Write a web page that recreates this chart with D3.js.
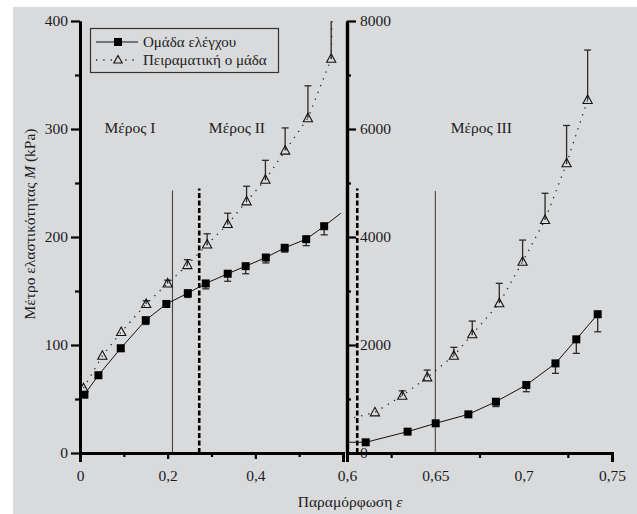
<!DOCTYPE html>
<html>
<head>
<meta charset="utf-8">
<script src="https://cdn.jsdelivr.net/npm/d3@7"></script>
<style>
    html, body { margin: 0; padding: 0; background: #fff; }
    #chart { width: 637px; height: 514px; }
    text { font-family: "Liberation Serif", "DejaVu Serif", serif; fill: #1c1c1c; }
</style>
</head>
<body>
<div id="chart"></div>
<script>
// left panel (parts I and II): strain 0 - 0.6, modulus in kPa
const leftControlEps = [0.01, 0.042, 0.093, 0.15, 0.197, 0.246, 0.287, 0.337, 0.378, 0.424, 0.467, 0.516, 0.557];
const leftControlM = [54, 72, 97, 123, 138, 148, 157, 166, 173, 181, 190, 198, 210];
const leftControlErr = [2, 2, 3, 4, 3, 4, 5, 7, 7, 5, 4, 6, 8];
const leftControlTail = [0.595, 222];

const leftExpEps = [0.008, 0.051, 0.094, 0.151, 0.2, 0.245, 0.29, 0.337, 0.38, 0.423, 0.468, 0.52, 0.573];
const leftExpM = [60, 90, 112, 138, 157, 174, 193, 212, 233, 253, 280, 310, 365];
const leftExpErr = [0, 0, 0, 3, 3, 5, 10, 10, 14, 18, 21, 30, 60];
const leftExpTail = [0.575, 400];

// right panel (part III): strain 0.6 - 0.75, modulus in kPa
const rightControlEps = [0.6106, 0.6343, 0.6502, 0.6687, 0.6843, 0.7015, 0.718, 0.7298, 0.7419];
const rightControlM = [198, 395, 550, 716, 950, 1260, 1660, 2105, 2570];
const rightControlErr = [0, 0, 0, 0, 90, 125, 185, 260, 325];
const rightControlHead = [0.6, 200];

const rightExpEps = [0.6158, 0.6313, 0.6454, 0.6605, 0.6709, 0.6862, 0.6994, 0.7121, 0.7243, 0.7362];
const rightExpM = [753, 1061, 1401, 1802, 2198, 2772, 3543, 4315, 5365, 6537];
const rightExpErr = [0, 90, 135, 155, 245, 370, 400, 495, 700, 925];
const rightExpHead = [0.6, 620];

// region boundaries [strain, top of line]
const leftSolidMark = [0.211, 243];
const leftDashMark = [0.272, 245];
const rightDashMark = [0.6058, 4900];
const rightSolidMark = [0.65, 4850];

const leftYTicks = [0, 100, 200, 300, 400];
const leftYMinor = [50, 150, 250, 350];
const rightYTicks = [0, 2000, 4000, 6000, 8000];
const rightYMinor = [1000, 3000, 5000, 7000];
const leftXTicks = [0, 0.2, 0.4];
const leftXMinor = [0.1, 0.3, 0.5];
const rightXTicks = [0.6, 0.65, 0.7, 0.75];
const rightXMinor = [0.625, 0.675, 0.725];

const partLabels = ["Μέρος I", "Μέρος II", "Μέρος III"];
const legendLabels = ["Ομάδα ελέγχου", "Πειραματική ο μάδα"];

class BrokenAxisChart {
    constructor(domName) {
        this.domName = domName;
        this.dom = document.querySelector(domName);
    }

    drawSeries(g, x, y, eps, vals, errs, extra, kind) {
        let pts = d3.zip(eps, vals, errs);
        let linePts = pts.map(d => [d[0], d[1]]);
        if (kind.head) linePts.unshift(extra);
        else linePts.push(extra);

        let line = d3.line()
            .x(d => x(d[0]))
            .y(d => y(d[1]));

        g.append("path")
            .attr("d", line(linePts))
            .attr("fill", "none")
            .attr("stroke", kind.control ? "#111" : "#222")
            .attr("stroke-width", kind.control ? 1 : 1.3)
            .attr("stroke-dasharray", kind.control ? null : "1.3,6");

        // error bars: control goes down, experimental goes up
        let bars = g.selectAll(null)
            .data(pts.filter(d => d[2] > 0))
            .enter()
            .append("g")
            .attr("stroke", "#2a2a2a")
            .attr("stroke-width", 1.3);
        bars.append("line")
            .attr("x1", d => x(d[0]))
            .attr("x2", d => x(d[0]))
            .attr("y1", d => y(d[1]))
            .attr("y2", d => y(kind.control ? d[1] - d[2] : d[1] + d[2]));
        bars.append("line")
            .attr("x1", d => x(d[0]) - 3.5)
            .attr("x2", d => x(d[0]) + 3.5)
            .attr("y1", d => y(kind.control ? d[1] - d[2] : d[1] + d[2]))
            .attr("y2", d => y(kind.control ? d[1] - d[2] : d[1] + d[2]));

        if (kind.control) {
            g.selectAll(null)
                .data(pts)
                .enter()
                .append("rect")
                .attr("x", d => x(d[0]) - 4)
                .attr("y", d => y(d[1]) - 4)
                .attr("width", 8)
                .attr("height", 8)
                .attr("fill", "#000");
        } else {
            g.selectAll(null)
                .data(pts)
                .enter()
                .append("path")
                .attr("d", "M0,-5L4.6,3.5L-4.6,3.5Z")
                .attr("transform", d => "translate(" + x(d[0]) + "," + y(d[1]) + ")")
                .attr("fill", "none")
                .attr("stroke", "#111")
                .attr("stroke-width", 1.1);
        }
    }

    drawMark(g, x, y, mark, dashed) {
        g.append("line")
            .attr("x1", x(mark[0]))
            .attr("x2", x(mark[0]))
            .attr("y1", y(0))
            .attr("y2", y(mark[1]))
            .attr("stroke", dashed ? "#000" : "#444")
            .attr("stroke-width", dashed ? 2.6 : 1.1)
            .attr("stroke-dasharray", dashed ? "5,2.5" : null);
    }

    styleAxis(sel, width) {
        sel.select(".domain").attr("stroke", "#000").attr("stroke-width", width);
        sel.selectAll(".tick line").attr("stroke", "#000").attr("stroke-width", 2.2);
        sel.selectAll(".tick text")
            .style("font-family", "'Liberation Serif', serif")
            .style("font-size", "15.5px")
            .attr("fill", "#1c1c1c");
    }

    render() {
        const width = 637,
            height = 514;
        let comma = d => String(d).replace(".", ",");
        let plain = d3.format("d");

        let xLeft = d3.scaleLinear().domain([0, 0.6]).range([80, 343]);
        let xRight = d3.scaleLinear().domain([0.6, 0.75]).range([347, 612]);
        let yLeft = d3.scaleLinear().domain([0, 400]).range([453, 21]);
        let yRight = d3.scaleLinear().domain([0, 8000]).range([453, 21]);

        const svg = d3.select(this.domName)
            .append("svg")
            .attr("width", width)
            .attr("height", height);

        // grey backdrop
        svg.append("rect")
            .attr("x", 13).attr("y", 7)
            .attr("width", width - 13).attr("height", height - 7)
            .attr("fill", "#d9dadc");

        let defs = svg.append("defs");
        defs.append("clipPath").attr("id", "clipLeft")
            .append("rect").attr("x", 80).attr("y", 21).attr("width", 263).attr("height", 440);
        defs.append("clipPath").attr("id", "clipRight")
            .append("rect").attr("x", 347).attr("y", 21).attr("width", 280).attr("height", 440);

        // left panel
        let gl = svg.append("g").attr("clip-path", "url(#clipLeft)");
        this.drawMark(gl, xLeft, yLeft, leftSolidMark, false);
        this.drawMark(gl, xLeft, yLeft, leftDashMark, true);
        this.drawSeries(gl, xLeft, yLeft, leftExpEps, leftExpM, leftExpErr, leftExpTail, {control: false, head: false});
        this.drawSeries(gl, xLeft, yLeft, leftControlEps, leftControlM, leftControlErr, leftControlTail, {control: true, head: false});

        // right panel
        let gr = svg.append("g").attr("clip-path", "url(#clipRight)");
        this.drawMark(gr, xRight, yRight, rightDashMark, true);
        this.drawMark(gr, xRight, yRight, rightSolidMark, false);
        this.drawSeries(gr, xRight, yRight, rightExpEps, rightExpM, rightExpErr, rightExpHead, {control: false, head: true});
        this.drawSeries(gr, xRight, yRight, rightControlEps, rightControlM, rightControlErr, rightControlHead, {control: true, head: true});

        // axes
        let ayl = svg.append("g").attr("transform", "translate(80,0)")
            .call(d3.axisLeft(yLeft).tickValues(leftYTicks).tickSize(9).tickSizeOuter(0).tickPadding(3).tickFormat(plain));
        this.styleAxis(ayl, 3);
        let aylm = svg.append("g").attr("transform", "translate(80,0)")
            .call(d3.axisLeft(yLeft).tickValues(leftYMinor).tickSize(5).tickSizeOuter(0).tickFormat(""));
        this.styleAxis(aylm, 3);

        let ayr = svg.append("g").attr("transform", "translate(347,0)")
            .call(d3.axisRight(yRight).tickValues(rightYTicks).tickSize(9).tickSizeOuter(0).tickPadding(4).tickFormat(plain));
        this.styleAxis(ayr, 3.2);
        let ayrm = svg.append("g").attr("transform", "translate(347,0)")
            .call(d3.axisRight(yRight).tickValues(rightYMinor).tickSize(4).tickSizeOuter(0).tickFormat(""));
        this.styleAxis(ayrm, 3.2);

        let axl = svg.append("g").attr("transform", "translate(0,453)")
            .call(d3.axisBottom(xLeft).tickValues(leftXTicks).tickSize(6).tickSizeOuter(9).tickPadding(11).tickFormat(comma));
        this.styleAxis(axl, 3);
        let axlm = svg.append("g").attr("transform", "translate(0,453)")
            .call(d3.axisBottom(xLeft).tickValues(leftXMinor).tickSize(4).tickSizeOuter(9).tickFormat(""));
        this.styleAxis(axlm, 3);

        let axr = svg.append("g").attr("transform", "translate(0,453)")
            .call(d3.axisBottom(xRight).tickValues(rightXTicks).tickSize(0).tickSizeOuter(9).tickPadding(17).tickFormat(comma));
        this.styleAxis(axr, 3);
        let axrm = svg.append("g").attr("transform", "translate(0,453)")
            .call(d3.axisBottom(xRight).tickValues(rightXMinor).tickSize(5).tickSizeOuter(9).tickFormat(""));
        this.styleAxis(axrm, 3);

        // part labels
        let parts = [[xLeft(0.114), partLabels[0]], [xLeft(0.358), partLabels[1]], [xRight(0.676), partLabels[2]]];
        svg.selectAll(null)
            .data(parts)
            .enter()
            .append("text")
            .attr("x", d => d[0])
            .attr("y", 133)
            .attr("text-anchor", "middle")
            .style("font-size", "15.5px")
            .text(d => d[1]);

        // axis titles
        let yt = svg.append("text")
            .attr("transform", "translate(35,224) rotate(-90)")
            .attr("text-anchor", "middle")
            .style("font-size", "15.5px");
        yt.append("tspan").text("Μέτρο ελαστικότητας ");
        yt.append("tspan").style("font-style", "italic").text("M");
        yt.append("tspan").text(" (kPa)");

        let xt = svg.append("text")
            .attr("x", 350)
            .attr("y", 507)
            .attr("text-anchor", "middle")
            .style("font-size", "15.5px");
        xt.append("tspan").text("Παραμόρφωση ");
        xt.append("tspan").style("font-style", "italic").text("ε");

        // legend
        let lg = svg.append("g");
        lg.append("rect")
            .attr("x", 90.5).attr("y", 28.5)
            .attr("width", 188).attr("height", 44)
            .attr("fill", "none")
            .attr("stroke", "#333")
            .attr("stroke-width", 1.2);
        lg.append("line")
            .attr("x1", 96).attr("x2", 138).attr("y1", 42).attr("y2", 42)
            .attr("stroke", "#111").attr("stroke-width", 1.2);
        lg.append("rect")
            .attr("x", 114).attr("y", 38).attr("width", 8).attr("height", 8)
            .attr("fill", "#000");
        lg.append("line")
            .attr("x1", 96).attr("x2", 138).attr("y1", 60).attr("y2", 60)
            .attr("stroke", "#222").attr("stroke-width", 1.3)
            .attr("stroke-dasharray", "1.3,6");
        lg.append("path")
            .attr("d", "M0,-4.5L4.2,3L-4.2,3Z")
            .attr("transform", "translate(118,60)")
            .attr("fill", "#d9dadc")
            .attr("stroke", "#111")
            .attr("stroke-width", 1.1);
        lg.selectAll(null)
            .data(legendLabels)
            .enter()
            .append("text")
            .attr("x", 143)
            .attr("y", (d, i) => 47 + i * 18)
            .style("font-size", "15px")
            .text(d => d);
    }
}

let chart = new BrokenAxisChart("#chart");
chart.render();
</script>
</body>
</html>
